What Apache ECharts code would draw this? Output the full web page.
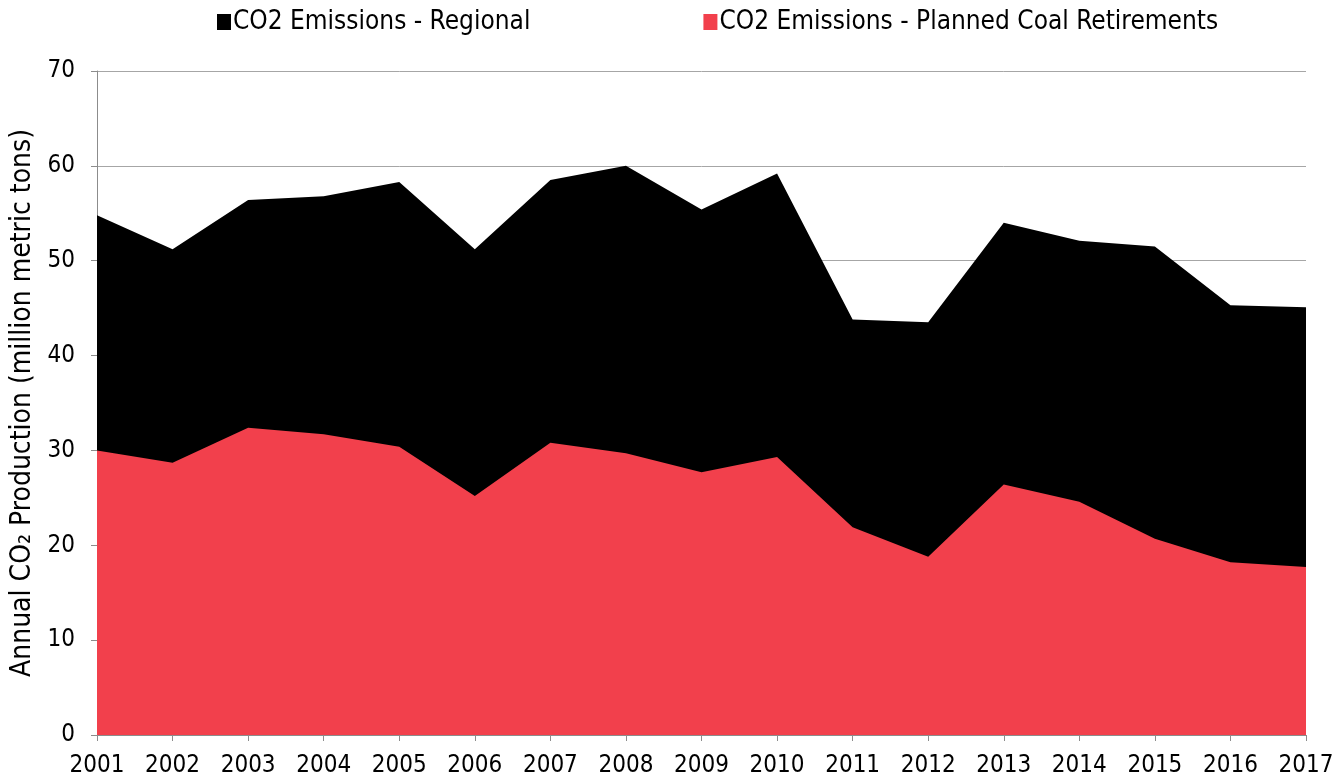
<!doctype html>
<html>
<head>
<meta charset="utf-8">
<title>CO2 emissions</title>
<script src="https://cdn.jsdelivr.net/npm/echarts@6/dist/echarts.min.js"></script>
<style>
  html, body { margin: 0; padding: 0; background: #fff; }
  #main { width: 1339px; height: 781px; }
</style>
</head>
<body>
<div id="main"></div>
<script>
// 数据
const years = ['2001', '2002', '2003', '2004', '2005', '2006', '2007', '2008', '2009',
               '2010', '2011', '2012', '2013', '2014', '2015', '2016', '2017'];
const regional = [54.8, 51.2, 56.4, 56.8, 58.3, 51.2, 58.5, 60.0, 55.4,
                  59.2, 43.8, 43.5, 54.0, 52.1, 51.5, 45.3, 45.1];
const coalRetire = [30.0, 28.7, 32.4, 31.7, 30.4, 25.2, 30.8, 29.7, 27.7,
                    29.3, 21.9, 18.8, 26.4, 24.6, 20.7, 18.2, 17.7];
const yTicks = [0, 10, 20, 30, 40, 50, 60, 70];

const font = 'DejaVu Sans Condensed';
const myChart = echarts.init(document.getElementById('main'));

const option = {
    animation: false,
    textStyle: { fontFamily: font },
    legend: {
        top: 4,
        left: 212,
        itemGap: 173,
        icon: 'rect',
        itemWidth: 14,
        itemHeight: 16,
        textStyle: { fontSize: 26, color: '#000', fontFamily: font, padding: [0, 0, 0, -3] },
        data: ['CO2 Emissions - Regional', 'CO2 Emissions - Planned Coal Retirements']
    },
    grid: { left: 97, right: 33, top: 71, bottom: 46, outerBoundsMode: 'none', containLabel: false },
    xAxis: {
        type: 'category',
        data: years,
        boundaryGap: false,
        axisLine: { lineStyle: { color: '#8c8c8c', width: 1 } },
        axisTick: { show: true, length: 6, lineStyle: { color: '#8c8c8c' } },
        axisLabel: { fontSize: 24, color: '#000', margin: 19, fontFamily: font }
    },
    yAxis: {
        type: 'value',
        min: yTicks[0],
        max: yTicks[yTicks.length - 1],
        interval: 10,
        name: 'Annual CO\u2082 Production (million metric tons)',
        nameLocation: 'middle',
        nameGap: 60,
        nameTextStyle: { fontSize: 28, color: '#000', fontFamily: font },
        axisLine: { show: true, lineStyle: { color: '#8c8c8c', width: 1 } },
        axisTick: { show: true, length: 6, lineStyle: { color: '#8c8c8c' } },
        splitLine: { lineStyle: { color: '#a6a6a6', width: 1 } },
        axisLabel: { fontSize: 24, color: '#000', margin: 22, fontFamily: font }
    },
    series: [
        {
            name: 'CO2 Emissions - Regional',
            type: 'line',
            data: regional,
            symbol: 'none',
            lineStyle: { width: 0 },
            itemStyle: { color: '#000000' },
            areaStyle: { color: '#000000', opacity: 1 },
            z: 2
        },
        {
            name: 'CO2 Emissions - Planned Coal Retirements',
            type: 'line',
            data: coalRetire,
            symbol: 'none',
            lineStyle: { width: 0 },
            itemStyle: { color: '#f2404c' },
            areaStyle: { color: '#f2404c', opacity: 1 },
            z: 3
        }
    ]
};

myChart.setOption(option);
</script>
</body>
</html>
